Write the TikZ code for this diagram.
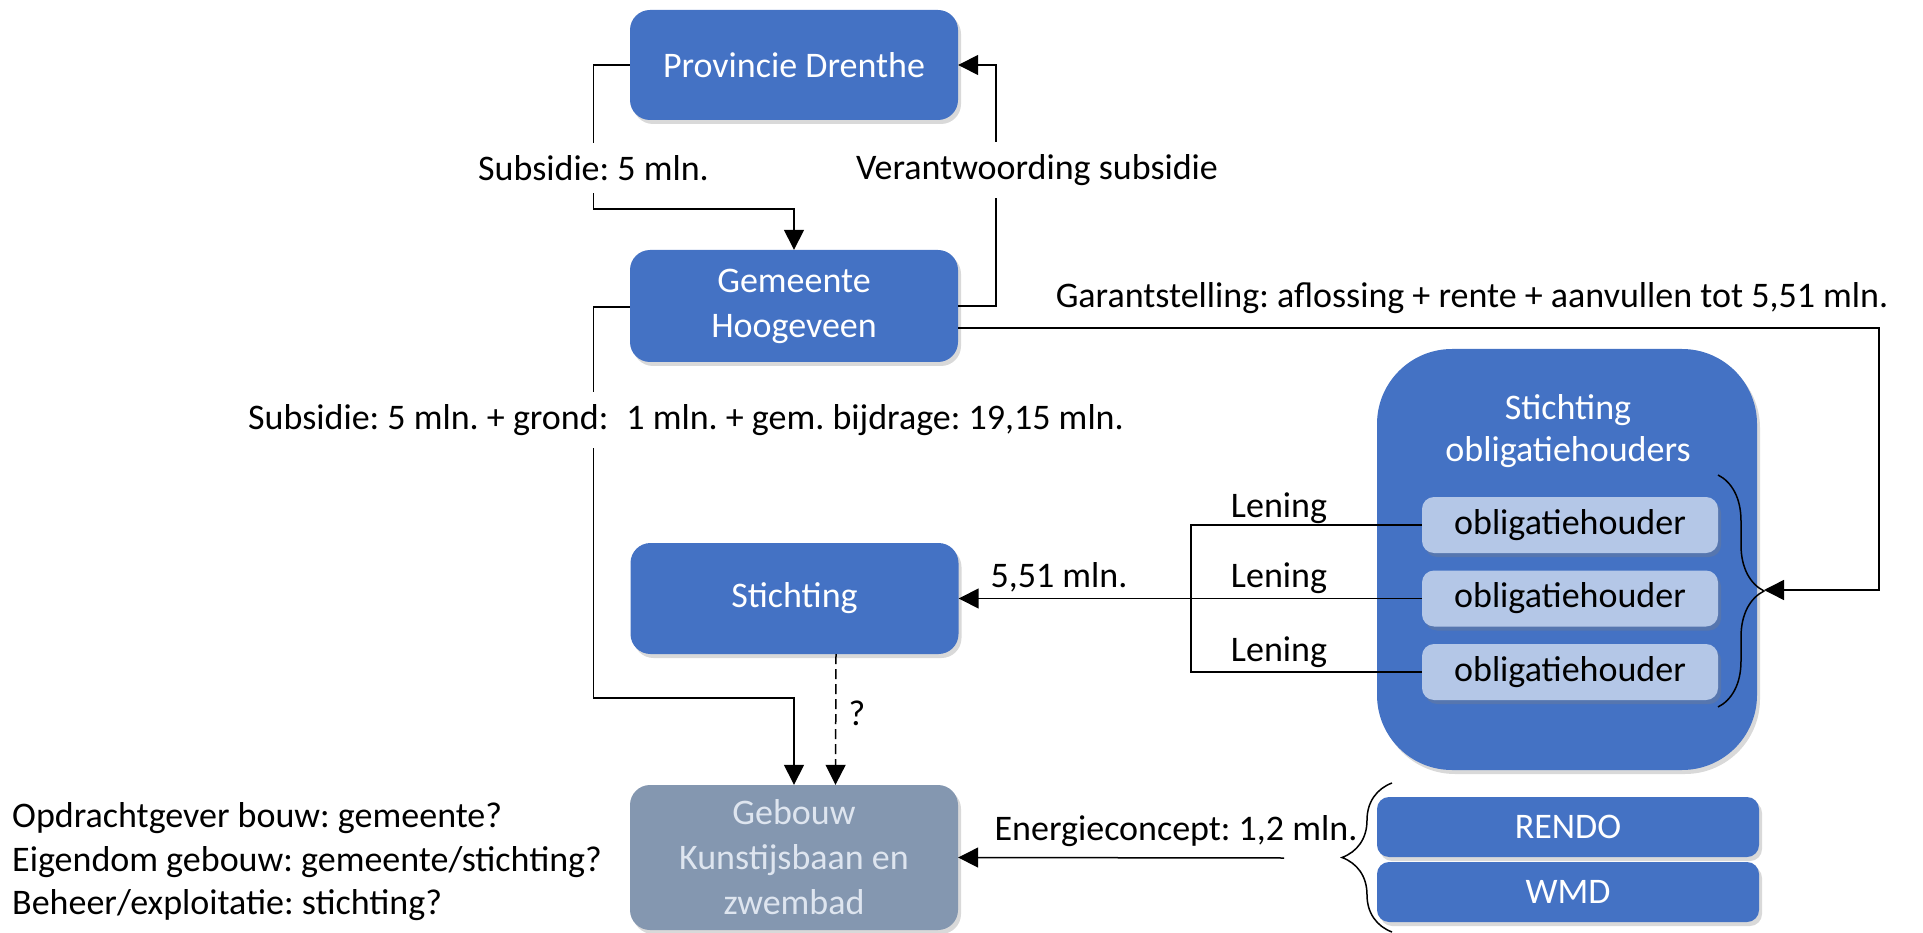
\documentclass[tikz,border=0pt]{standalone}
\usepackage{fontspec}
\setmainfont{Carlito}
\frenchspacing
\usetikzlibrary{arrows.meta,shadows,decorations.pathreplacing}
\definecolor{blu}{RGB}{68,114,196}
\definecolor{lblu}{RGB}{180,199,231}
\definecolor{gbl}{RGB}{132,151,176}
\definecolor{gtxt}{RGB}{222,229,239}
\tikzset{
  base/.style={font=\fontsize{36}{45}\selectfont},
  shad/.style={drop shadow={shadow xshift=3pt,shadow yshift=-4pt,opacity=0.3}},
  bbox/.style={base, rectangle, rounded corners=20pt, fill=blu, text=white, align=center, inner sep=0pt, shad},
  gbox/.style={base, rectangle, rounded corners=20pt, fill=gbl, text=gtxt, align=center, inner sep=0pt, shad},
  obox/.style={base, rectangle, rounded corners=12pt, fill=lblu, text=black, inner sep=0pt, minimum width=296pt, minimum height=56pt, shad},
  lab/.style={base, text=black, inner sep=0pt},
  wlab/.style={base, text=black, fill=white, inner xsep=2pt, inner ysep=12pt},
  conn/.style={line width=1.5pt, draw=black},
  arr/.style={conn, -{Triangle[length=20pt,width=20pt]}},
  dashline/.style={dash pattern=on 10pt off 5pt},
  brc/.style={conn, decorate},
}
\begin{document}
\begin{tikzpicture}[x=1pt,y=-1pt]
\useasboundingbox (0,0) rectangle (1923,933);
% boxes
\node[bbox, minimum width=328pt, minimum height=110pt] (prov) at (794,65) {Provincie Drenthe};
\node[bbox, minimum width=328pt, minimum height=112pt] (gem) at (794,306) {Gemeente\\Hoogeveen};
\node[bbox, minimum width=328pt, minimum height=111pt] (sticht) at (794.5,598.5) {Stichting};
\node[gbox, minimum width=328pt, minimum height=145pt] (geb) at (794,857.5) {Gebouw\\Kunstijsbaan en\\zwembad};
\node[bbox, rounded corners=75pt, minimum width=380pt, minimum height=421pt] (big) at (1567,559.5) {};
\node[base, text=white, align=center, font=\fontsize{36}{42}\selectfont] (bigt) at (1568,431) {Stichting\\obligatiehouders};
\node[obox] (ob1) at (1570,525) {obligatiehouder};
\node[obox] (ob2) at (1570,598.5) {obligatiehouder};
\node[obox] (ob3) at (1570,672) {obligatiehouder};
\node[bbox, rounded corners=12pt, minimum width=382pt, minimum height=60pt] (rendo) at (1568,827) {RENDO};
\node[bbox, rounded corners=12pt, minimum width=382pt, minimum height=60pt] (wmd) at (1568,892) {WMD};
\node[lab, anchor=west, align=left, font=\fontsize{36}{43.5}\selectfont] (notes) at (12,862) {Opdrachtgever bouw: gemeente?\\Eigendom gebouw: gemeente/stichting?\\Beheer/exploitatie: stichting?};
% coordinates
\coordinate (a1) at (593.5,209);
\coordinate (a2) at (996,65);
\coordinate (a3) at (1879,328);
\coordinate (a4) at (1879,590);
\coordinate (btip) at (1764,590);
\coordinate (a5) at (593.5,698);
\coordinate (l1) at (1191,525);
\coordinate (l3) at (1191,672);
\coordinate (estart) at (1284,858);
\coordinate (bt) at (1718,475);
\coordinate (bb) at (1718,707);
\coordinate (et) at (1392,783);
\coordinate (eb) at (1392,932);
% connectors
\draw[arr] (prov.west) -| (a1) -| (gem.north);
\node[wlab] (t1) at (593.5,168) {Subsidie: 5 mln.};
\draw[arr] (gem.east) -| (a2) -- (prov.east);
\node[wlab] (t2) at (1037,170) {Verantwoording subsidie};
\draw[arr] ([yshift=-22pt]gem.east) -- (a3) -- (a4) -- (btip);
\node[lab] (t3) at (1472,298) {Garantstelling: aflossing + rente + aanvullen tot 5,51 mln.};
\draw[arr] ([yshift=-1pt]gem.west) -| (a5) -| (geb.north);
\node[wlab] (t4) at (686,420) {Subsidie: 5 mln. + grond:\enspace 1 mln. + gem. bijdrage: 19,15 mln.};
\draw[arr, dashline] ([xshift=41.5pt]sticht.south) -- ([xshift=41.5pt]geb.north);
\node[lab] (q) at (857,713) {?};
\draw[arr] (ob2.west) -- (sticht.east);
\node[lab] (t5) at (1059,577) {5,51 mln.};
\draw[conn] (ob1.west) -- (l1) -- (l3) -- (ob3.west);
\node[lab] (len1) at (1279,508) {Lening};
\node[lab] (len2) at (1279,578) {Lening};
\node[lab] (len3) at (1279,652) {Lening};
\draw[brc, decoration={brace, amplitude=46pt}] (bt) -- (bb);
\draw[brc, decoration={brace, amplitude=50pt}] (eb) -- (et);
\draw[arr] (estart) -- (geb.east);
\node[lab] (t6) at (1176,831) {Energieconcept: 1,2 mln.};
\end{tikzpicture}
\end{document}
